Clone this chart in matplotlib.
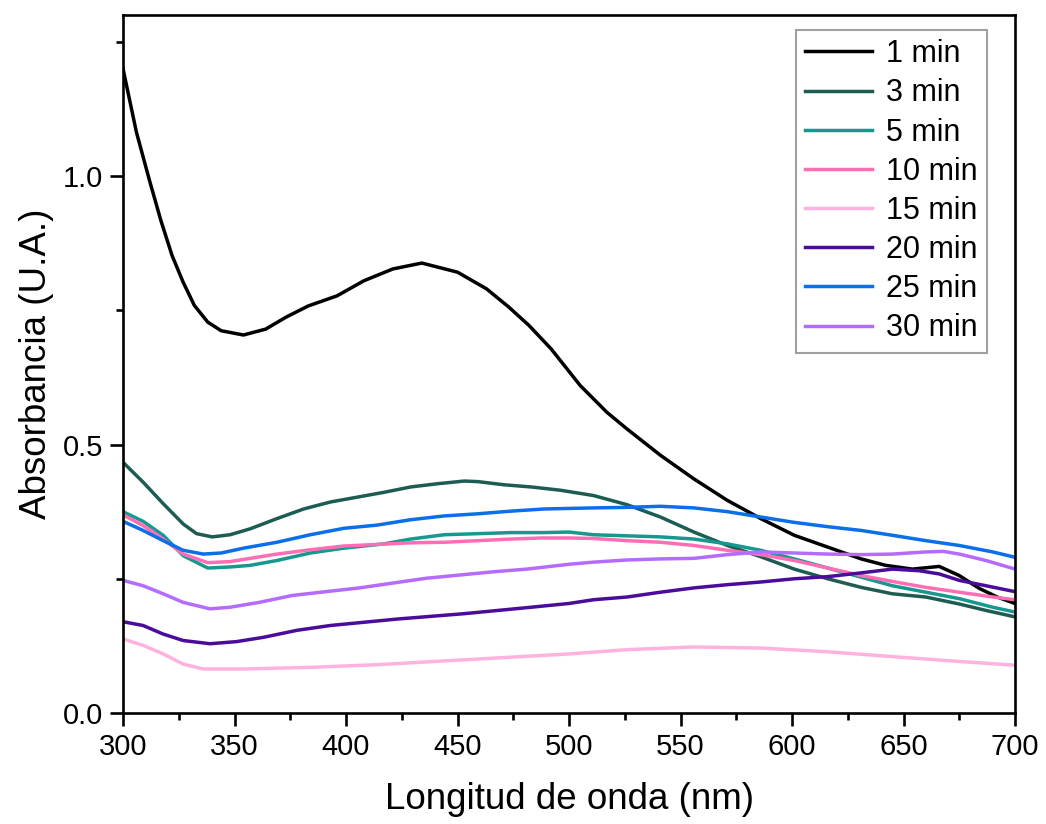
import matplotlib
matplotlib.use('Agg')
import matplotlib.pyplot as plt
from matplotlib.ticker import MultipleLocator

plt.rcParams['font.family'] = ['Liberation Sans', 'DejaVu Sans']

# valores (longitud de onda en nm, absorbancia)
x_1 = [300, 306, 312, 317, 322, 327, 332, 338, 344, 354, 364, 373, 383, 396, 408, 421, 434,
       450, 463, 473, 482, 492, 505, 517, 526, 541, 556, 571, 586, 601, 616, 631, 642, 654,
       666, 675, 684, 692, 700]
y_1 = [1.200, 1.082, 0.990, 0.917, 0.852, 0.802, 0.759, 0.728, 0.712, 0.704, 0.715, 0.737,
       0.758, 0.777, 0.805, 0.827, 0.838, 0.821, 0.790, 0.756, 0.722, 0.678, 0.610, 0.560,
       0.529, 0.480, 0.436, 0.396, 0.362, 0.331, 0.309, 0.287, 0.275, 0.268, 0.273, 0.256,
       0.232, 0.216, 0.204]

x_3 = [300, 309, 318, 327, 333, 340, 348, 357, 369, 381, 393, 405, 417, 429, 441, 453, 459,
       471, 483, 496, 511, 526, 541, 556, 571, 586, 601, 616, 631, 645, 660, 675, 687, 700]
y_3 = [0.467, 0.430, 0.390, 0.352, 0.334, 0.328, 0.332, 0.343, 0.362, 0.380, 0.393, 0.402,
       0.411, 0.421, 0.427, 0.432, 0.431, 0.425, 0.421, 0.415, 0.405, 0.388, 0.365, 0.337,
       0.312, 0.291, 0.268, 0.250, 0.234, 0.222, 0.216, 0.203, 0.191, 0.179]

x_5 = [300, 309, 318, 327, 338, 348, 357, 369, 384, 399, 417, 429, 444, 459, 474, 488, 500,
       511, 526, 541, 556, 571, 586, 601, 616, 631, 645, 660, 675, 690, 700]
y_5 = [0.375, 0.357, 0.331, 0.293, 0.270, 0.272, 0.275, 0.284, 0.298, 0.307, 0.315, 0.324,
       0.332, 0.334, 0.336, 0.336, 0.337, 0.332, 0.330, 0.328, 0.324, 0.315, 0.303, 0.287,
       0.270, 0.253, 0.237, 0.225, 0.213, 0.197, 0.188]

x_10 = [300, 309, 318, 327, 338, 348, 357, 369, 384, 399, 414, 429, 444, 459, 474, 488, 500,
        511, 526, 541, 556, 571, 586, 601, 616, 631, 645, 660, 675, 690, 700]
y_10 = [0.369, 0.349, 0.324, 0.296, 0.280, 0.282, 0.288, 0.296, 0.304, 0.311, 0.314, 0.317,
        0.318, 0.321, 0.324, 0.326, 0.326, 0.325, 0.321, 0.318, 0.312, 0.303, 0.295, 0.284,
        0.270, 0.256, 0.245, 0.234, 0.225, 0.216, 0.211]

x_15 = [300, 309, 318, 327, 336, 354, 384, 414, 444, 474, 500, 526, 556, 586, 616, 645, 675, 700]
y_15 = [0.138, 0.126, 0.110, 0.091, 0.082, 0.082, 0.085, 0.090, 0.097, 0.104, 0.110, 0.118,
        0.123, 0.121, 0.114, 0.105, 0.096, 0.089]

x_20 = [300, 309, 318, 327, 339, 351, 363, 378, 393, 408, 423, 438, 453, 468, 483, 500, 511,
        526, 541, 556, 571, 586, 601, 616, 631, 645, 657, 666, 675, 687, 700]
y_20 = [0.170, 0.163, 0.147, 0.135, 0.129, 0.133, 0.141, 0.154, 0.163, 0.169, 0.175, 0.180,
        0.185, 0.191, 0.197, 0.204, 0.211, 0.216, 0.225, 0.233, 0.239, 0.244, 0.250, 0.254,
        0.261, 0.268, 0.265, 0.259, 0.247, 0.237, 0.226]

x_25 = [300, 309, 318, 327, 336, 344, 354, 369, 384, 399, 414, 429, 444, 459, 474, 489, 500,
        511, 526, 541, 556, 571, 586, 601, 616, 631, 645, 660, 675, 690, 700]
y_25 = [0.357, 0.340, 0.321, 0.303, 0.296, 0.298, 0.307, 0.318, 0.332, 0.344, 0.350, 0.360,
        0.367, 0.371, 0.376, 0.380, 0.381, 0.382, 0.383, 0.385, 0.382, 0.375, 0.365, 0.355,
        0.347, 0.340, 0.331, 0.321, 0.312, 0.300, 0.290]

x_30 = [300, 309, 318, 327, 339, 348, 361, 376, 391, 406, 421, 436, 451, 466, 481, 500, 511,
        526, 541, 556, 571, 586, 601, 616, 631, 645, 660, 668, 675, 687, 700]
y_30 = [0.247, 0.237, 0.222, 0.206, 0.194, 0.197, 0.206, 0.219, 0.226, 0.233, 0.242, 0.251,
        0.257, 0.263, 0.268, 0.277, 0.281, 0.285, 0.287, 0.288, 0.295, 0.300, 0.298, 0.296,
        0.295, 0.296, 0.300, 0.301, 0.296, 0.284, 0.268]

series = [
    ("1 min", x_1, y_1, "#000000"),
    ("3 min", x_3, y_3, "#1d5c52"),
    ("5 min", x_5, y_5, "#17988f"),
    ("10 min", x_10, y_10, "#ff6eb4"),
    ("15 min", x_15, y_15, "#ffb2dd"),
    ("20 min", x_20, y_20, "#4b0c9c"),
    ("25 min", x_25, y_25, "#0a6fe8"),
    ("30 min", x_30, y_30, "#b46cff"),
]

fig = plt.figure(figsize=(10.46, 8.24), dpi=100)
ax = fig.add_axes([0.1176, 0.1347, 0.8528, 0.8471])

for label, xs, ys, color in series:
    ax.plot(xs, ys, color=color, linewidth=2.5, label=label)

ax.set_xlim(300, 700)
ax.set_ylim(0, 1.30)
ax.xaxis.set_major_locator(MultipleLocator(50))
ax.xaxis.set_minor_locator(MultipleLocator(25))
ax.yaxis.set_major_locator(MultipleLocator(0.5))
ax.yaxis.set_minor_locator(MultipleLocator(0.25))
ax.yaxis.set_major_formatter(plt.FormatStrFormatter('%.1f'))

for s in ax.spines.values():
    s.set_linewidth(1.9)
ax.tick_params(which='major', direction='out', length=9.5, width=1.9, labelsize=21, pad=5)
ax.tick_params(which='minor', direction='out', length=5, width=1.9)

ax.set_xlabel("Longitud de onda (nm)", fontsize=26.5, labelpad=15)
ax.set_ylabel("Absorbancia (U.A.)", fontsize=26.5, labelpad=6)

leg = ax.legend(loc='upper right', bbox_to_anchor=(0.9686, 0.9785), fontsize=22,
                frameon=True, fancybox=False, edgecolor='#a0a0a0', framealpha=1,
                handlelength=2.2, labelspacing=0.3, borderpad=0.3, handletextpad=0.45,
                borderaxespad=0)
leg.get_frame().set_linewidth(1.5)

fig.savefig("out.png", dpi=100)
